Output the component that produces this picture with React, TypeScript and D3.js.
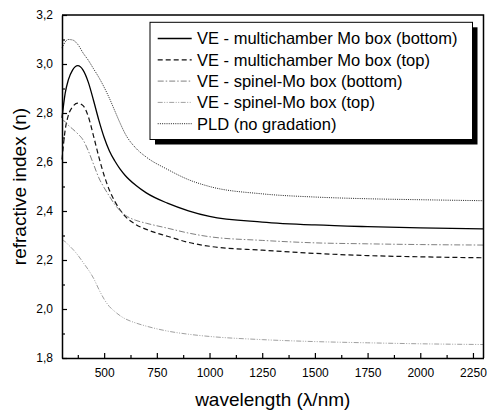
import * as d3 from "d3";
import React, { useEffect, useRef } from "react";

// wavelength grid (nm), shared by all curves
const wavelengths = [
  300, 315, 330, 350, 375, 400, 425, 450, 475, 500, 525, 550, 575, 600, 650,
  700, 800, 900, 1000, 1250, 1500, 1750, 2000, 2300,
];

// refractive index values
const veMultiBottom = [
  2.78, 2.88, 2.935, 2.975, 2.993, 2.975, 2.925, 2.85, 2.77, 2.7, 2.645, 2.605,
  2.572, 2.545, 2.505, 2.474, 2.432, 2.401, 2.378, 2.355, 2.343, 2.336, 2.331,
  2.327,
];
const veMultiTop = [
  2.61, 2.73, 2.79, 2.825, 2.84, 2.83, 2.785, 2.705, 2.62, 2.545, 2.485, 2.44,
  2.405, 2.378, 2.345, 2.325, 2.297, 2.272, 2.256, 2.24, 2.227, 2.218, 2.213,
  2.209,
];
const veSpinelBottom = [
  2.77, 2.765, 2.75, 2.735, 2.715, 2.69, 2.645, 2.59, 2.535, 2.495, 2.46,
  2.427, 2.402, 2.383, 2.362, 2.35, 2.33, 2.31, 2.295, 2.28, 2.27, 2.266,
  2.263, 2.261,
];
const veSpinelTop = [
  2.282, 2.275, 2.262, 2.245, 2.22, 2.19, 2.16, 2.125, 2.08, 2.04, 2.01, 1.99,
  1.973, 1.96, 1.943, 1.93, 1.91, 1.897, 1.888, 1.875, 1.867, 1.862, 1.858,
  1.855,
];
const pldNoGradation = [
  3.065, 3.09, 3.1, 3.098, 3.08, 3.045, 3.015, 2.98, 2.945, 2.905, 2.86, 2.81,
  2.76, 2.715, 2.657, 2.62, 2.57, 2.528, 2.5, 2.47, 2.457, 2.45, 2.446, 2.442,
];

const seriesLabels = [
  "VE - multichamber Mo box (bottom)",
  "VE - multichamber Mo box (top)",
  "VE - spinel-Mo box (bottom)",
  "VE - spinel-Mo box (top)",
  "PLD (no gradation)",
];

const xTicks = [500, 750, 1000, 1250, 1500, 1750, 2000, 2250];
const xMinorTicks = [375, 625, 875, 1125, 1375, 1625, 1875, 2125];
const yTicks = [1.8, 2.0, 2.2, 2.4, 2.6, 2.8, 3.0, 3.2];
const yMinorTicks = [1.9, 2.1, 2.3, 2.5, 2.7, 2.9, 3.1];

export default function App() {
  const svgRef = useRef<SVGSVGElement | null>(null);
  const width = 487;
  const height = 416;
  const margin = { top: 15, right: 3.5, bottom: 58, left: 62 };

  const styles = [
    { color: "#000", dash: null, w: 1.3 },
    { color: "#111", dash: "5,3", w: 1.2 },
    { color: "#808080", dash: "6,2,1.5,2", w: 1 },
    { color: "#a0a0a0", dash: "5,1.5,1,1.5,1,1.5", w: 1 },
    { color: "#222", dash: "1,1.2", w: 1 },
  ];

  useEffect(() => {
    const svgEl = d3.select(svgRef.current);
    svgEl.selectAll("*").remove();

    const font = "'Liberation Sans', Arial, sans-serif";
    const x0 = margin.left;
    const x1 = width - margin.right;
    const y0 = height - margin.bottom;
    const y1 = margin.top;

    const xScale = d3.scaleLinear().domain([300, 2300]).range([x0, x1]);
    const yScale = d3.scaleLinear().domain([1.8, 3.2]).range([y0, y1]);

    const allSeries = [
      veMultiBottom,
      veMultiTop,
      veSpinelBottom,
      veSpinelTop,
      pldNoGradation,
    ];

    // curves
    const line = d3
      .line<number>()
      .x((d, i) => xScale(wavelengths[i]))
      .y((d) => yScale(d))
      .curve(d3.curveMonotoneX);

    const plot = svgEl.append("g");
    allSeries.forEach((vals, k) => {
      plot
        .append("path")
        .datum(vals)
        .attr("fill", "none")
        .attr("stroke", styles[k].color)
        .attr("stroke-width", styles[k].w)
        .attr("stroke-dasharray", styles[k].dash)
        .attr("d", line);
    });

    const fmt = (d: number) => d.toFixed(1).replace(".", ",");

    /* X AXIS */
    const xAxis = svgEl
      .append("g")
      .attr("transform", "translate(0," + y0 + ")")
      .call(
        d3
          .axisBottom(xScale)
          .tickValues(xTicks)
          .tickFormat((d: any) => String(d))
          .tickSize(-5)
          .tickSizeOuter(0)
          .tickPadding(10)
      );
    svgEl
      .append("g")
      .attr("transform", "translate(0," + y0 + ")")
      .call(
        d3
          .axisBottom(xScale)
          .tickValues(xMinorTicks)
          .tickSize(-3)
          .tickFormat(() => "")
      )
      .select(".domain")
      .remove();

    /* Y AXIS */
    const yAxis = svgEl
      .append("g")
      .attr("transform", "translate(" + x0 + ",0)")
      .call(
        d3
          .axisLeft(yScale)
          .tickValues(yTicks)
          .tickFormat((d: any) => fmt(d))
          .tickSize(-5)
          .tickSizeOuter(0)
          .tickPadding(9)
      );
    svgEl
      .append("g")
      .attr("transform", "translate(" + x0 + ",0)")
      .call(
        d3
          .axisLeft(yScale)
          .tickValues(yMinorTicks)
          .tickSize(-3)
          .tickFormat(() => "")
      )
      .select(".domain")
      .remove();

    svgEl.selectAll(".tick line").attr("stroke", "#000").attr("stroke-width", 1.2);
    [xAxis, yAxis].forEach((ax) => {
      ax.select(".domain").attr("stroke", "#000").attr("stroke-width", 1.5);
      ax.selectAll("text")
        .attr("font-family", font)
        .attr("font-size", 12)
        .attr("fill", "#000");
    });

    // top and right frame
    svgEl
      .append("path")
      .attr("d", `M${x0},${y1}H${x1}V${y0}`)
      .attr("fill", "none")
      .attr("stroke", "#000")
      .attr("stroke-width", 1.5);

    // axis titles
    svgEl
      .append("text")
      .attr("x", (x0 + x1) / 2)
      .attr("y", 406)
      .attr("text-anchor", "middle")
      .attr("font-family", font)
      .attr("font-size", 19)
      .text("wavelength (\u03bb/nm)");

    svgEl
      .append("text")
      .attr("transform", "translate(26," + (y0 + y1) / 2 + ") rotate(-90)")
      .attr("text-anchor", "middle")
      .attr("font-family", font)
      .attr("font-size", 19)
      .text("refractive index (n)");

    /* LEGEND */
    const lg = { x: 150, y: 22.3, w: 322.5, h: 117.2 };
    const legend = svgEl.append("g");
    legend
      .append("rect")
      .attr("x", lg.x + 5)
      .attr("y", lg.y + 5)
      .attr("width", lg.w)
      .attr("height", lg.h)
      .attr("fill", "#000");
    legend
      .append("rect")
      .attr("x", lg.x)
      .attr("y", lg.y)
      .attr("width", lg.w)
      .attr("height", lg.h)
      .attr("fill", "#fff")
      .attr("stroke", "#000")
      .attr("stroke-width", 1);

    seriesLabels.forEach((label, k) => {
      const ry = lg.y + 16.2 + k * 21.3;
      legend
        .append("line")
        .attr("x1", lg.x + 7.7)
        .attr("x2", lg.x + 41.7)
        .attr("y1", ry)
        .attr("y2", ry)
        .attr("stroke", styles[k].color)
        .attr("stroke-width", styles[k].w)
        .attr("stroke-dasharray", styles[k].dash);
      legend
        .append("text")
        .attr("x", lg.x + 47)
        .attr("y", ry)
        .attr("dy", "0.36em")
        .attr("font-family", font)
        .attr("font-size", 16.5)
        .attr("fill", "#000")
        .text(label);
    });
  });

  return (
    <svg
      ref={svgRef}
      width={width}
      height={height}
      style={{ position: "absolute", left: 0, top: 0, background: "#fff" }}
    ></svg>
  );
}
